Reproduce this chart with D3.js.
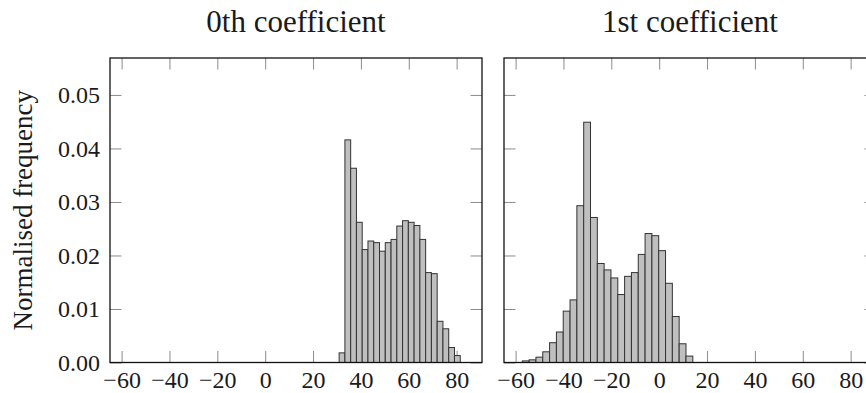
<!DOCTYPE html>
<html>
<head>
<meta charset="utf-8">
<script src="https://cdn.jsdelivr.net/npm/d3@7"></script>
<style>
    html, body { margin: 0; padding: 0; background: #fff; }
    svg { display: block; }
    text { font-family: 'Liberation Serif', 'DejaVu Serif', serif; fill: #1a1a1a; }
</style>
</head>
<body>
<div id="chart"></div>
<script>
const titles = ['0th coefficient', '1st coefficient'];
const yLabel = 'Normalised frequency';
const xTicks = [-60, -40, -20, 0, 20, 40, 60, 80];
const yTicks = [0, 0.01, 0.02, 0.03, 0.04, 0.05];

// histogram of the 0th coefficient
const binStart0 = 30.9;
const binWidth0 = 2.41;
const freq0 = [0.0018, 0.0416, 0.0363, 0.0262, 0.0211, 0.0227, 0.0224, 0.0208, 0.0224, 0.0230, 0.0255,
    0.0265, 0.0262, 0.0256, 0.0230, 0.0168, 0.0166, 0.0077, 0.0063, 0.0028, 0.0013];

// histogram of the 1st coefficient
const binStart1 = -57.2;
const binWidth1 = 2.85;
const freq1 = [0.0003, 0.0005, 0.0010, 0.0020, 0.0037, 0.0057, 0.0096, 0.0117, 0.0293, 0.0449, 0.0271,
    0.0185, 0.0173, 0.0158, 0.0127, 0.0161, 0.0168, 0.0202, 0.0241, 0.0237, 0.0209, 0.0148, 0.0086,
    0.0035, 0.0012];

const panels = [
    { title: titles[0], start: binStart0, width: binWidth0, freq: freq0, showY: true },
    { title: titles[1], start: binStart1, width: binWidth1, freq: freq1, showY: false }
];

const W = 866;
const H = 393;
const panelLeft = [110, 504];
const panelWidth = 372;
const plotTop = 58;
const plotBottom = 362.5;
const tickLen = 11.5;

const svg = d3.select('#chart')
    .append('svg')
    .attr('width', W)
    .attr('height', H);

const x = d3.scaleLinear()
    .domain([-64.85, 90.6])
    .range([0, panelWidth]);

const y = d3.scaleLinear()
    .domain([0, 0.0569])
    .range([plotBottom - plotTop, 0]);

const styleTicks = g => {
    g.select('.domain').remove();
    g.selectAll('.tick line').attr('stroke', '#8c8c8c').attr('stroke-width', 1);
    g.selectAll('.tick text').attr('font-size', 24).attr('fill', '#1a1a1a');
};

panels.forEach((p, k) => {
    const g = svg.append('g')
        .attr('transform', `translate(${panelLeft[k]},${plotTop})`);
    const h = plotBottom - plotTop;

    g.append('g')
        .attr('transform', `translate(0,${h})`)
        .call(d3.axisBottom(x).tickValues(xTicks).tickSizeInner(-tickLen).tickSizeOuter(0).tickPadding(8.5))
        .call(styleTicks);

    g.append('g')
        .call(d3.axisTop(x).tickValues(xTicks).tickSizeInner(-tickLen).tickSizeOuter(0).tickFormat(''))
        .call(styleTicks);

    g.append('g')
        .call(d3.axisLeft(y).tickValues(yTicks).tickSizeInner(-tickLen).tickSizeOuter(0).tickPadding(10)
            .tickFormat(p.showY ? d3.format('.2f') : ''))
        .call(styleTicks);

    g.append('g')
        .attr('transform', `translate(${panelWidth},0)`)
        .call(d3.axisRight(y).tickValues(yTicks).tickSizeInner(-tickLen).tickSizeOuter(0).tickFormat(''))
        .call(styleTicks);

    g.append('g')
        .selectAll('rect')
        .data(p.freq)
        .enter()
        .append('rect')
        .attr('x', (d, i) => x(p.start + i * p.width))
        .attr('width', (d, i) => x(p.start + (i + 1) * p.width) - x(p.start + i * p.width))
        .attr('y', d => y(d))
        .attr('height', d => y(0) - y(d))
        .attr('fill', '#bfbfbf')
        .attr('stroke', '#333')
        .attr('stroke-width', 1);

    g.append('rect')
        .attr('x', 0)
        .attr('y', 0)
        .attr('width', panelWidth)
        .attr('height', h)
        .attr('fill', 'none')
        .attr('stroke', '#111')
        .attr('stroke-width', 1.3);

    g.append('text')
        .attr('x', panelWidth / 2)
        .attr('y', -26)
        .attr('text-anchor', 'middle')
        .attr('font-size', 31)
        .text(p.title);
});

svg.append('text')
    .attr('transform', `translate(32,${(plotTop + plotBottom) / 2}) rotate(-90)`)
    .attr('text-anchor', 'middle')
    .attr('font-size', 27)
    .text(yLabel);
</script>
</body>
</html>
